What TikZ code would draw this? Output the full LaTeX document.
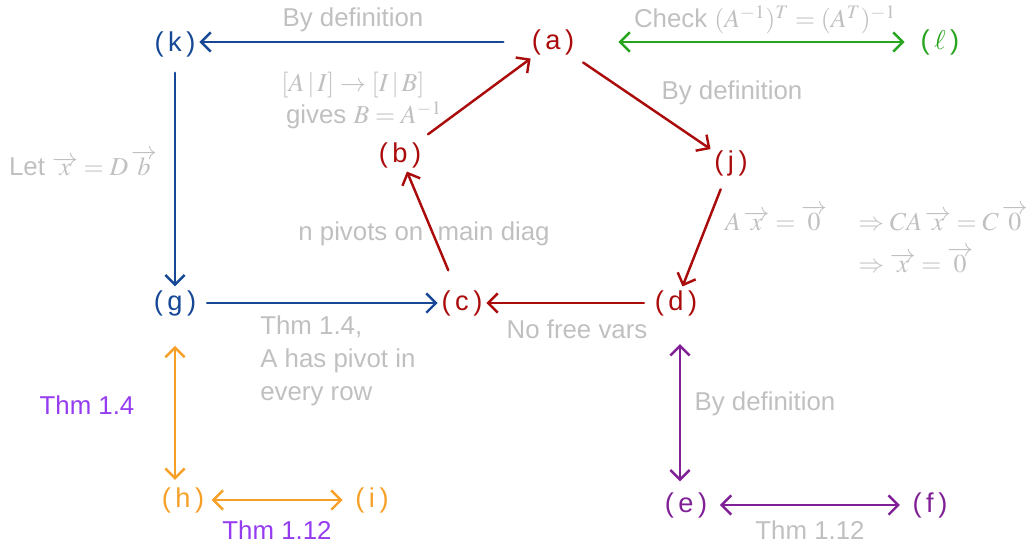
\documentclass[tikz,border=0pt]{standalone}
\usepackage{mathptmx}
\usepackage{fontspec}
\setmainfont{Liberation Sans}
\usepackage{xcolor}
\usetikzlibrary{arrows.meta}
\definecolor{myblue}{RGB}{22, 72, 150}
\definecolor{myred}{RGB}{170, 12, 12}
\definecolor{mygreen}{RGB}{40, 165, 30}
\definecolor{myorange}{RGB}{246, 160, 40}
\definecolor{mypurple}{RGB}{128, 32, 150}
\definecolor{mygray}{RGB}{192, 192, 192}
\definecolor{thmpurple}{RGB}{150, 60, 240}

\tikzset{
  lbl/.style={font=\fontsize{15.5}{17}\selectfont, inner sep=2pt},
  note/.style={font=\fontsize{14.7}{17}\selectfont, color=mygray, inner sep=0pt},
  hand/.style={line width=1.4pt, line cap=round, -{Straight Barb[length=5.5pt,width=11pt]}},
  both/.style={line width=1.4pt, line cap=round, {Straight Barb[length=5.5pt,width=11pt]}-{Straight Barb[length=5.5pt,width=11pt]}}
}

\begin{document}
\begin{tikzpicture}[x=0.02cm, y=-0.02cm]
\useasboundingbox (0,0) rectangle (1027,544);

%statements
\node[lbl, color=myred] (a) at (553,42) {(\,a\,)};
\node[lbl, color=myred] (b) at (400,155) {(\,b\,)};
\node[lbl, color=myred] (j) at (731,163) {(\,j\,)};
\node[lbl, color=myred] (c) at (462,303) {(\,c\,)};
\node[lbl, color=myred] (d) at (676,303) {(\,d\,)};
\node[lbl, color=myblue] (k) at (175,44) {(\,k\,)};
\node[lbl, color=myblue] (g) at (175,303) {(\,g\,)};
\node[lbl, color=myorange] (h) at (183,500) {(\,h\,)};
\node[lbl, color=myorange] (i) at (372,500) {(\,i\,)};
\node[lbl, color=mypurple] (e) at (686,505) {(\,e\,)};
\node[lbl, color=mypurple] (f) at (930,505) {(\,f\,)};
\node[lbl, color=mygreen] (l) at (940,42) {(\,$\ell$\,)};

%red cycle
\draw[hand, myred, shorten <=4pt] (d) -- (c);
\draw[hand, myred, shorten <=10pt] (c) -- (b);
\draw[hand, myred, shorten <=4pt] (b) -- (a);
\draw[hand, myred, shorten <=4pt] (a) -- (j);
\draw[hand, myred, shorten <=6pt] (j) -- (d);

%blue path
\draw[hand, myblue, shorten <=14pt] (a.west) -- (a.west -| k.east);
\draw[hand, myblue, shorten <=7pt] (k) -- (g);
\draw[hand, myblue, shorten <=4pt] (g) -- (c);

%equivalences
\draw[both, mygreen, shorten <=23pt, shorten >=7pt] (a) -- (l);
\draw[both, myorange, shorten <=15pt, shorten >=2pt] (g.south) -- (g.south |- h.north);
\draw[both, myorange, shorten <=2pt, shorten >=5pt] (h) -- (i);
\draw[both, mypurple, shorten <=14pt, shorten >=4pt] (d.south) ++(4,0) coordinate (d1) (d1) -- (d1 |- e.north);
\draw[both, mypurple, shorten <=5pt, shorten >=5pt] (e) -- (f);

%notes
\node[note] (n1) at (353,20) {By definition};
\node[note] (n2) at (765,20) {Check $(A^{-1})^T = (A^T)^{-1}$};
\node[note] (n3) at (732,93) {By definition};
\node[note] (n4) at (353,85) {$[A\,|\,I] \rightarrow [I\,|\,B]$};
\node[note] (n5) at (364,115) {gives $B = A^{-1}$};
\node[note] (n6) at (83,163) {Let $\overrightarrow{x} = D\,\overrightarrow{b}$};
\node[note] (n7) at (424,234) {n pivots on\ \ main diag};
\node[note] (n8) at (776,218) {$A\,\overrightarrow{x} = \overrightarrow{0}$};
\node[note, anchor=west] (n9) at (858,218) {$\Rightarrow CA\,\overrightarrow{x} = C\,\overrightarrow{0}$};
\node[note, anchor=west] (n10) at (858,260) {$\Rightarrow \overrightarrow{x} = \overrightarrow{0}$};
\node[note, anchor=north west, align=left] (n11) at (260,315) {Thm 1.4,\\[2pt]A has pivot in\\[2pt]every row};
\node[note] (n12) at (577,329) {No free vars};
\node[note, color=thmpurple] (n13) at (87,405) {Thm 1.4};
\node[note] (n14) at (765,404) {By definition};
\node[note, color=thmpurple] (n15) at (277,530) {Thm 1.12};
\node[note] (n16) at (810,530) {Thm 1.12};

\end{tikzpicture}
\end{document}
